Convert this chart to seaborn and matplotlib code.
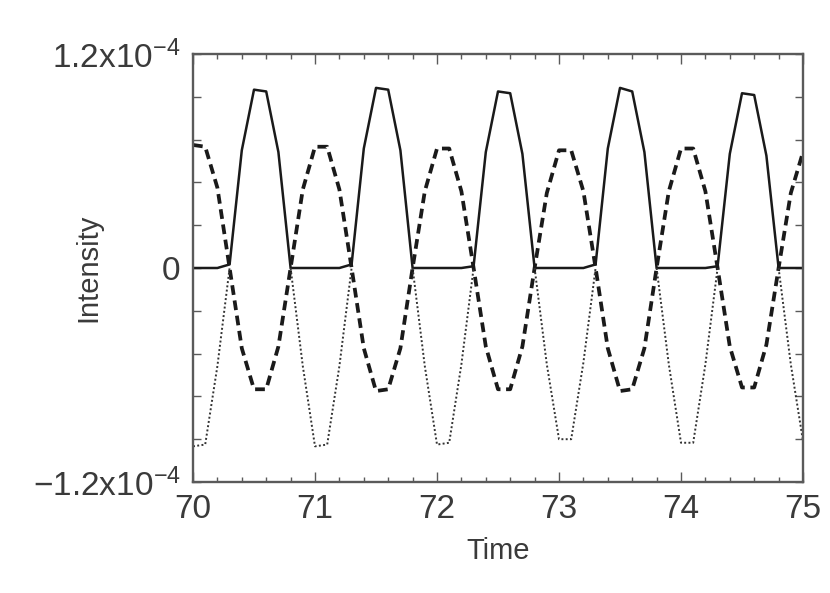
#!/usr/bin/env python3
"""Three intensity traces vs time (solid, dashed, dotted), IDL-style frame."""

import matplotlib
matplotlib.use("Agg")
import matplotlib.pyplot as plt
from matplotlib.ticker import FixedLocator, FixedFormatter, MultipleLocator
import numpy as np
import pandas as pd
import seaborn as sns

# sample times (step 0.1) and traces in units of 1e-4
time = np.linspace(70.0, 75.0, 51)
solid = [0.00, 0.00, 0.00, 0.02, 0.66, 1.00, 0.99, 0.65, 0.00, 0.00,
         0.00, 0.00, 0.00, 0.02, 0.67, 1.01, 1.00, 0.66, 0.00, 0.00,
         0.00, 0.00, 0.00, 0.01, 0.65, 0.99, 0.98, 0.64, 0.00, 0.00,
         0.00, 0.00, 0.00, 0.02, 0.67, 1.01, 0.99, 0.65, 0.00, 0.00,
         0.00, 0.00, 0.00, 0.01, 0.64, 0.98, 0.97, 0.63, 0.00, 0.00,
         0.00]
dashed = [0.69, 0.68, 0.45, 0.00, -0.45, -0.68, -0.68, -0.44, 0.00, 0.44,
          0.68, 0.68, 0.44, 0.00, -0.45, -0.69, -0.68, -0.45, 0.00, 0.43,
          0.67, 0.67, 0.43, 0.00, -0.44, -0.68, -0.68, -0.44, 0.00, 0.42,
          0.66, 0.66, 0.43, 0.00, -0.45, -0.69, -0.68, -0.45, 0.00, 0.43,
          0.67, 0.67, 0.43, 0.00, -0.44, -0.67, -0.67, -0.43, 0.00, 0.42,
          0.65]
nan = np.nan
dotted = [-1.00, -0.99, -0.55, 0.00, nan, nan, nan, nan, 0.00, -0.55,
          -1.00, -0.99, -0.55, 0.00, nan, nan, nan, nan, 0.00, -0.55,
          -0.99, -0.98, -0.54, 0.00, nan, nan, nan, nan, 0.00, -0.54,
          -0.96, -0.96, -0.53, 0.00, nan, nan, nan, nan, 0.00, -0.54,
          -0.98, -0.98, -0.54, 0.00, nan, nan, nan, nan, 0.00, -0.54,
          -0.97]
SCALE = 1e-4

y_labels = ["$\\mathregular{-1.2x10^{-4}}$", "0", "$\\mathregular{1.2x10^{-4}}$"]
x_ticks = [70, 71, 72, 73, 74, 75]

df = pd.DataFrame({"time": time,
                   "solid": np.array(solid) * SCALE,
                   "dashed": np.array(dashed) * SCALE,
                   "dotted": np.array(dotted) * SCALE})
# dotted trace is only drawn on its negative lobes: split into separate units
df["seg"] = df["dotted"].isna().cumsum()
dots = df.dropna(subset=["dotted"])

sns.set_theme(style="ticks")
plt.rcParams["font.family"] = ["Liberation Sans", "DejaVu Sans"]
plt.rcParams["mathtext.default"] = "regular"

INK = "#1a1a1a"
FRAME = "#5a5a5a"
TEXT = "#3a3a3a"

fig = plt.figure(figsize=(8.3, 5.93), dpi=100)
ax = fig.add_axes([193 / 830, 1 - 482 / 593, 610 / 830, 428 / 593])

sns.lineplot(data=df, x="time", y="solid", color=INK, lw=1.8, ax=ax)
sns.lineplot(data=df, x="time", y="dashed", color=INK, lw=2.7,
             ls=(0, (2.6, 1.5)), ax=ax)
sns.lineplot(data=dots, x="time", y="dotted", units="seg", estimator=None,
             color="#333333", lw=1.4, ls=(0, (1, 1.2)), ax=ax)

ax.set_xlim(70, 75)
ax.set_ylim(-1.2 * SCALE, 1.2 * SCALE)

ax.xaxis.set_major_locator(FixedLocator(x_ticks))
ax.xaxis.set_minor_locator(MultipleLocator(0.2))
ax.yaxis.set_major_locator(FixedLocator([-1.2 * SCALE, 0, 1.2 * SCALE]))
ax.yaxis.set_major_formatter(FixedFormatter(y_labels))
ax.yaxis.set_minor_locator(FixedLocator([k * 0.24 * SCALE for k in range(-4, 5)]))

for side in ax.spines.values():
    side.set_color(FRAME)
    side.set_linewidth(1.7)

ax.tick_params(which="both", direction="in", top=True, right=True,
               color=FRAME, width=1.0, labelcolor=TEXT, labelsize=24)
ax.tick_params(axis="x", which="major", length=7, pad=9)
ax.tick_params(axis="x", which="minor", length=3.5)
ax.tick_params(axis="y", which="major", length=6, pad=9)
ax.tick_params(axis="y", which="minor", length=6)

ax.set_xlabel("Time", fontsize=21, color=TEXT)
ax.set_ylabel("Intensity", fontsize=21, color=TEXT)
ax.xaxis.set_label_coords(0.5, -0.128)
ax.yaxis.set_label_coords(-0.148, 0.5)

fig.savefig("out.png", dpi=100)
